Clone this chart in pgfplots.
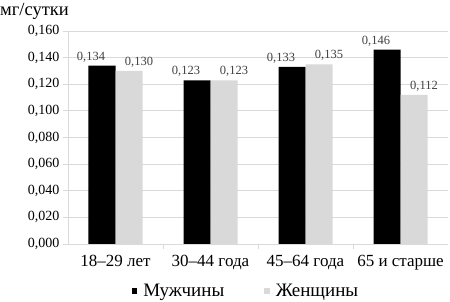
\documentclass[border=0pt]{standalone}
\usepackage{fontspec}
\setmainfont{Liberation Serif}
\usepackage{pgfplots}
\pgfplotsset{compat=1.18}
\definecolor{women}{HTML}{D9D9D9}
\definecolor{gridc}{HTML}{D9D9D9}
\begin{document}
\begin{tikzpicture}[x=1pt,y=1pt]
\useasboundingbox (0,0) rectangle (450,302);
\begin{axis}[
  at={(68pt,58pt)}, anchor=south west,
  width=380pt, height=213pt, scale only axis,
  ybar=0pt, bar width=27pt,
  ymin=0, ymax=0.16,
  ytick={0,0.02,0.04,0.06,0.08,0.1,0.12,0.14,0.16},
  xmin=-0.5, xmax=3.5,
  xtick={0,1,2,3},
  minor xtick={0.5,1.5,2.5},
  xticklabels={18–29 лет, 30–44 года, 45–64 года, 65 и старше},
  axis x line*=bottom, axis y line*=left,
  axis line style={gridc, -},
  ymajorgrids, grid style={gridc, line width=0.8pt},
  major x tick style={draw=none},
  minor x tick style={gridc, line width=0.8pt},
  minor tick length=5pt,
  ytick style={gridc, line width=0.8pt},
  major tick length=5pt, tick align=outside,
  yticklabel style={font=\fontsize{14}{16}\selectfont, /pgf/number format/.cd, fixed, fixed zerofill, precision=3, use comma, 1000 sep={}},
  xticklabel style={font=\fontsize{17}{19}\selectfont, yshift=-3pt},
  /pgf/number format/assume math mode=true,
  tick label style={text=black},
  nodes near coords,
  nodes near coords style={font=\fontsize{12.5}{14}\selectfont, text=black!75,
    /pgf/number format/fixed, /pgf/number format/fixed zerofill, /pgf/number format/precision=3,
    /pgf/number format/use comma, /pgf/number format/assume math mode=true},
  legend style={at={(0.5,0)}, anchor=center, yshift=-47pt, xshift=-12pt, draw=none,
    font=\fontsize{19}{21}\selectfont,
    /tikz/every odd column/.append style={column sep=4pt},
    /tikz/every even column/.append style={column sep=38pt}},
  legend columns=2,
  legend image code/.code={\fill[#1] (-3pt,-3pt) rectangle (2.5pt,2.5pt);},
]
\addplot[fill=black, draw=none, nodes near coords style={/tikz/xshift=-11pt}] coordinates {(0,0.134) (1,0.123) (2,0.133) (3,0.146)};
\addplot[fill=women, draw=none, nodes near coords style={/tikz/xshift=10pt}] coordinates {(0,0.130) (1,0.123) (2,0.135) (3,0.112)};
\legend{Мужчины, Женщины}
\end{axis}
\node[anchor=west, inner sep=0pt, font=\fontsize{18.5}{20}\selectfont] at (0,291) {мг/сутки};
\end{tikzpicture}
\end{document}
